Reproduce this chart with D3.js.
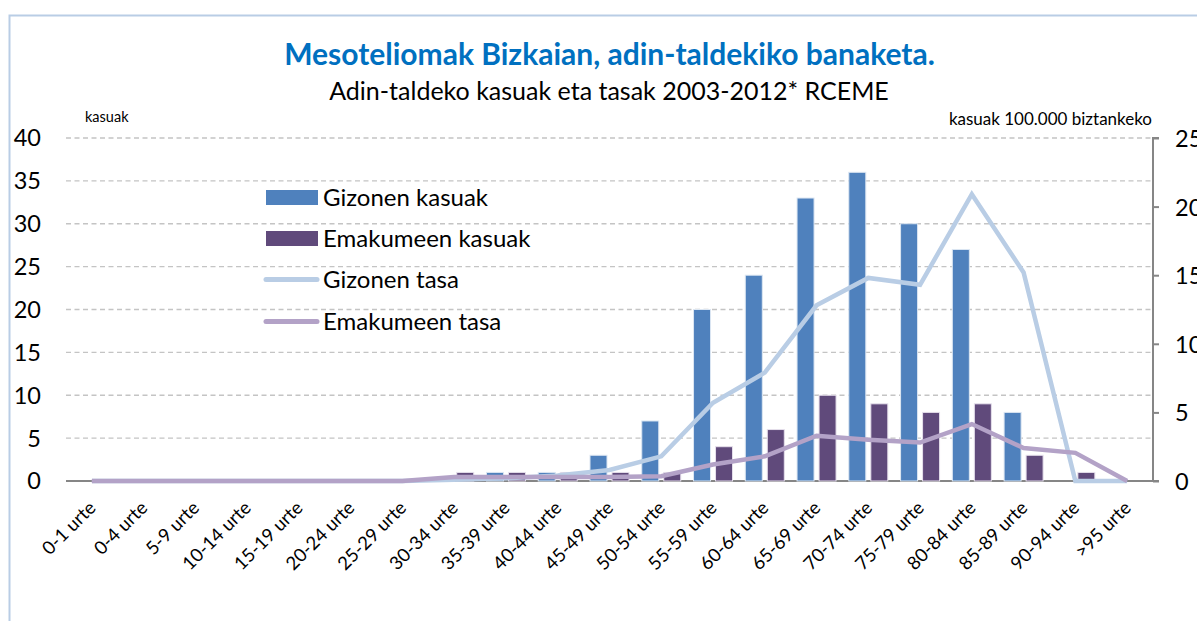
<!DOCTYPE html>
<html><head><meta charset="utf-8">
<script src="https://cdn.jsdelivr.net/npm/d3@7"></script>
<style>
html,body{margin:0;padding:0;background:#fff;overflow:hidden;}
text{font-family:Lato,"Open Sans",sans-serif;}
</style></head>
<body><svg id="c" width="1197" height="621"></svg>
<script>
const categories = ["0-1 urte","0-4 urte","5-9 urte","10-14 urte","15-19 urte","20-24 urte","25-29 urte","30-34 urte","35-39 urte","40-44 urte","45-49 urte","50-54 urte","55-59 urte","60-64 urte","65-69 urte","70-74 urte","75-79 urte","80-84 urte","85-89 urte","90-94 urte",">95 urte"];
const gizonenKasuak = [0,0,0,0,0,0,0,0,1,1,3,7,20,24,33,36,30,27,8,0,0];
const emakumeenKasuak = [0,0,0,0,0,0,0,1,1,1,1,1,4,6,10,9,8,9,3,1,0];
const gizonenTasa = [0,0,0,0,0,0,0,0.1,0.2,0.4,0.8,1.8,5.7,7.9,12.8,14.8,14.3,20.9,15.2,0,0];
const emakumeenTasa = [0,0,0,0,0,0,0,0.3,0.3,0.3,0.3,0.35,1.2,1.8,3.3,3.0,2.8,4.15,2.4,2.05,0];
const leftTicks = [0,5,10,15,20,25,30,35,40];
const rightTicks = [0,5,10,15,20,25];
const legendLabels = ["Gizonen kasuak","Emakumeen kasuak","Gizonen tasa","Emakumeen tasa"];
const colors = {gb:"#4F81BD", eb:"#604A7B", gl:"#B9CDE5", el:"#B3A2C7"};

const svg = d3.select("#c");
// outer border
svg.append("rect").attr("x",9.5).attr("y",15.5).attr("width",1300).attr("height",700)
  .attr("fill","none").attr("stroke","#B9CDE5").attr("stroke-width",2);

const x0 = 66, x1 = 1153, yTop = 138, yBot = 481;
const x = d3.scaleBand().domain(categories).range([x0,x1]).padding(0);
const yL = d3.scaleLinear().domain([0,40]).range([yBot,yTop]);
const yR = d3.scaleLinear().domain([0,25]).range([yBot,yTop]);

// gridlines
svg.append("g").selectAll("line").data(leftTicks.filter(d=>d>0)).join("line")
  .attr("x1",x0).attr("x2",x1).attr("y1",d=>yL(d)).attr("y2",d=>yL(d))
  .attr("stroke","#C4C4C4").attr("stroke-width",1.3).attr("stroke-dasharray","5,3.5");

// left tick labels
svg.append("g").selectAll("text").data(leftTicks).join("text")
  .attr("x",41).attr("y",d=>yL(d)).attr("dy","0.36em").attr("text-anchor","end")
  .attr("font-size",23.5).attr("fill","#000").text(d=>d);

// right axis
const rAxis = d3.axisRight(yR).tickValues(rightTicks).tickSize(6).tickFormat(d=>d);
const ra = svg.append("g").attr("transform",`translate(${x1},0)`).call(rAxis);
ra.select(".domain").attr("stroke","#868686").attr("stroke-width",2).attr("d",`M6,${yTop}H0V${yBot}H6`);
ra.selectAll(".tick line").attr("stroke","#868686").attr("stroke-width",2);
ra.selectAll(".tick text").attr("x",22).attr("font-size",23.5).attr("fill","#000")
  .attr("font-family","Lato,'Open Sans',sans-serif").attr("dy","0.36em");

// x axis line
svg.append("line").attr("x1",x0).attr("x2",x1).attr("y1",yBot).attr("y2",yBot)
  .attr("stroke","#868686").attr("stroke-width",2);

// bars
const bw = 17, gap = 2.5;
svg.append("g").selectAll("rect").data(gizonenKasuak.map((v,i)=>({v,c:categories[i]})).filter(d=>d.v>0)).join("rect")
  .attr("x",d=>x(d.c)+x.bandwidth()/2-gap-bw).attr("width",bw)
  .attr("y",d=>yL(d.v)).attr("height",d=>yBot-yL(d.v))
  .attr("fill",colors.gb).attr("stroke","#DCE6F2").attr("stroke-width",1);
svg.append("g").selectAll("rect").data(emakumeenKasuak.map((v,i)=>({v,c:categories[i]})).filter(d=>d.v>0)).join("rect")
  .attr("x",d=>x(d.c)+x.bandwidth()/2+gap).attr("width",bw)
  .attr("y",d=>yL(d.v)).attr("height",d=>yBot-yL(d.v))
  .attr("fill",colors.eb).attr("stroke","#E6E0EC").attr("stroke-width",1);

// lines
const line = d3.line().x((d,i)=>x(categories[i])+x.bandwidth()/2).y(d=>yR(d));
svg.append("path").datum(gizonenTasa).attr("d",line).attr("fill","none")
  .attr("stroke",colors.gl).attr("stroke-width",4.5).attr("stroke-linejoin","miter");
svg.append("path").datum(emakumeenTasa).attr("d",line).attr("fill","none")
  .attr("stroke",colors.el).attr("stroke-width",4.5).attr("stroke-linejoin","miter");

// x labels
svg.append("g").selectAll("text").data(categories).join("text")
  .attr("transform",d=>`translate(${x(d)+x.bandwidth()/2+5},${yBot+28}) rotate(-45)`)
  .attr("text-anchor","end").attr("font-size",18.5).attr("fill","#000").text(d=>d);

// titles
svg.append("text").attr("x",609.5).attr("y",65).attr("text-anchor","middle")
  .attr("font-size",30).attr("font-weight","bold").attr("fill","#0070C0")
  .text("Mesoteliomak Bizkaian, adin-taldekiko banaketa.");
svg.append("text").attr("x",609).attr("y",100).attr("text-anchor","middle")
  .attr("font-size",25).attr("fill","#000")
  .text("Adin-taldeko kasuak eta tasak 2003-2012* RCEME");
svg.append("text").attr("x",85).attr("y",122).attr("font-size",14.5).attr("fill","#000").text("kasuak");
svg.append("text").attr("x",1152).attr("y",125).attr("text-anchor","end").attr("font-size",17).attr("fill","#000").text("kasuak 100.000 biztankeko");

// legend
const lg = svg.append("g");
const ly = [197.5,238.5,279.5,321.5];
lg.append("rect").attr("x",266).attr("y",ly[0]-7.5).attr("width",52).attr("height",15).attr("fill",colors.gb);
lg.append("rect").attr("x",266).attr("y",ly[1]-7.5).attr("width",52).attr("height",15).attr("fill",colors.eb);
lg.append("line").attr("x1",266).attr("x2",317).attr("y1",ly[2]).attr("y2",ly[2]).attr("stroke",colors.gl).attr("stroke-width",5).attr("stroke-linecap","round");
lg.append("line").attr("x1",266).attr("x2",317).attr("y1",ly[3]).attr("y2",ly[3]).attr("stroke",colors.el).attr("stroke-width",5).attr("stroke-linecap","round");
lg.selectAll("text").data(legendLabels).join("text")
  .attr("x",323).attr("y",(d,i)=>ly[i]).attr("dy","0.36em").attr("font-size",24).attr("fill","#000").text(d=>d);
</script></body></html>
